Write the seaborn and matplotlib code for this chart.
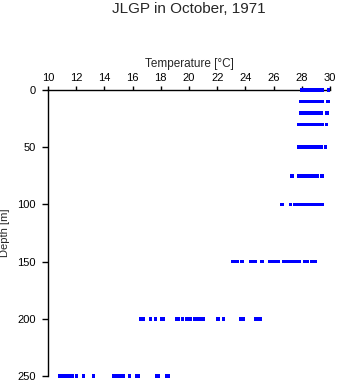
import matplotlib
matplotlib.use("Agg")
import matplotlib.pyplot as plt
import seaborn as sns
import pandas as pd

# Depth levels [m] and temperatures [°C] observed at each level
depths = [0, 10, 20, 30, 50, 75, 100, 150, 200, 250]

temps_0 = [28.01, 28.30, 28.44, 28.58, 28.72, 28.86, 29.00, 29.14, 29.43, 29.89]
temps_10 = [27.94, 28.08, 28.22, 28.37, 28.51, 28.65, 28.79, 28.93, 29.07, 29.21, 29.43, 29.85]
temps_20 = [27.94, 28.22, 28.37, 28.51, 28.65, 28.79, 28.93, 29.07, 29.21, 29.35, 29.78]
temps_30 = [27.80, 27.94, 28.08, 28.22, 28.37, 28.51, 28.65, 28.79, 28.93, 29.07, 29.21, 29.43, 29.75]
temps_50 = [27.80, 27.94, 28.15, 28.37, 28.51, 28.72, 28.93, 29.14, 29.35, 29.67]
temps_75 = [27.31, 27.80, 28.01, 28.22, 28.44, 28.65, 28.86, 29.07, 29.43]
temps_100 = [26.60, 27.20, 27.52, 27.73, 27.94, 28.15, 28.37, 28.58, 28.79, 29.00, 29.21, 29.43]
temps_150 = [23.13, 23.27, 23.42, 23.77, 24.41, 24.55, 24.69, 25.19, 25.75, 25.89, 26.18,
             26.32, 26.74, 26.88, 27.17, 27.31, 27.45, 27.59, 27.80, 28.23, 28.37, 28.72, 28.93]
temps_200 = [16.56, 16.77, 17.27, 17.62, 18.04, 18.18, 19.10, 19.24, 19.53, 19.81, 19.95,
             20.10, 20.38, 20.59, 20.80, 21.01, 22.07, 22.43, 23.70, 23.84, 24.76, 25.04]
temps_250 = [10.83, 10.97, 11.12, 11.33, 11.54, 11.75, 12.03, 12.53, 13.23, 14.65, 14.79,
             15.00, 15.14, 15.35, 15.78, 16.27, 16.41, 17.68, 17.82, 18.39, 18.53]

temps_by_depth = [temps_0, temps_10, temps_20, temps_30, temps_50, temps_75,
                  temps_100, temps_150, temps_200, temps_250]

x_ticks = [10, 12, 14, 16, 18, 20, 22, 24, 26, 28, 30]
y_ticks = [0, 50, 100, 150, 200, 250]

rows = []
for d, ts in zip(depths, temps_by_depth):
    for t in ts:
        rows.append({"Temperature": t, "Depth": d})
df = pd.DataFrame(rows)

sns.set_style("white")
plt.rcParams["font.family"] = ["Liberation Sans", "DejaVu Sans"]

fig = plt.figure(figsize=(3.41, 3.84), dpi=100)
ax = fig.add_axes([48 / 341, 1 - 376 / 384, 282 / 341, 286 / 384])

sns.scatterplot(data=df, x="Temperature", y="Depth", ax=ax, marker="s",
                s=6, color="#0000FF", linewidth=0, edgecolor="none",
                clip_on=False, zorder=5)

ax.set_xlim(10, 30)
ax.set_ylim(250, 0)
ax.set_xticks(x_ticks)
ax.set_yticks(y_ticks)
ax.xaxis.tick_top()
ax.xaxis.set_label_position("top")

for side in ["right", "bottom"]:
    ax.spines[side].set_visible(False)
for side in ["left", "top"]:
    ax.spines[side].set_color("black")
    ax.spines[side].set_linewidth(1.0)

ax.tick_params(axis="x", which="both", top=True, bottom=False, direction="out",
               length=3, width=1, pad=2, labelsize=8, colors="black")
ax.tick_params(axis="y", which="both", left=True, direction="out",
               length=4, width=1, pad=5, labelsize=8, colors="black")

ax.set_xlabel("Temperature [°C]", fontsize=8.5)
ax.set_ylabel("Depth [m]", fontsize=8)
ax.xaxis.set_label_coords(0.5, 1.08)
ax.yaxis.set_label_coords(-0.135, 0.5)
ax.grid(False)

fig.text(189 / 341, 1 - 9 / 384, "JLGP in October, 1971", ha="center", va="center",
         fontsize=11)

fig.savefig("out.png", dpi=100)
